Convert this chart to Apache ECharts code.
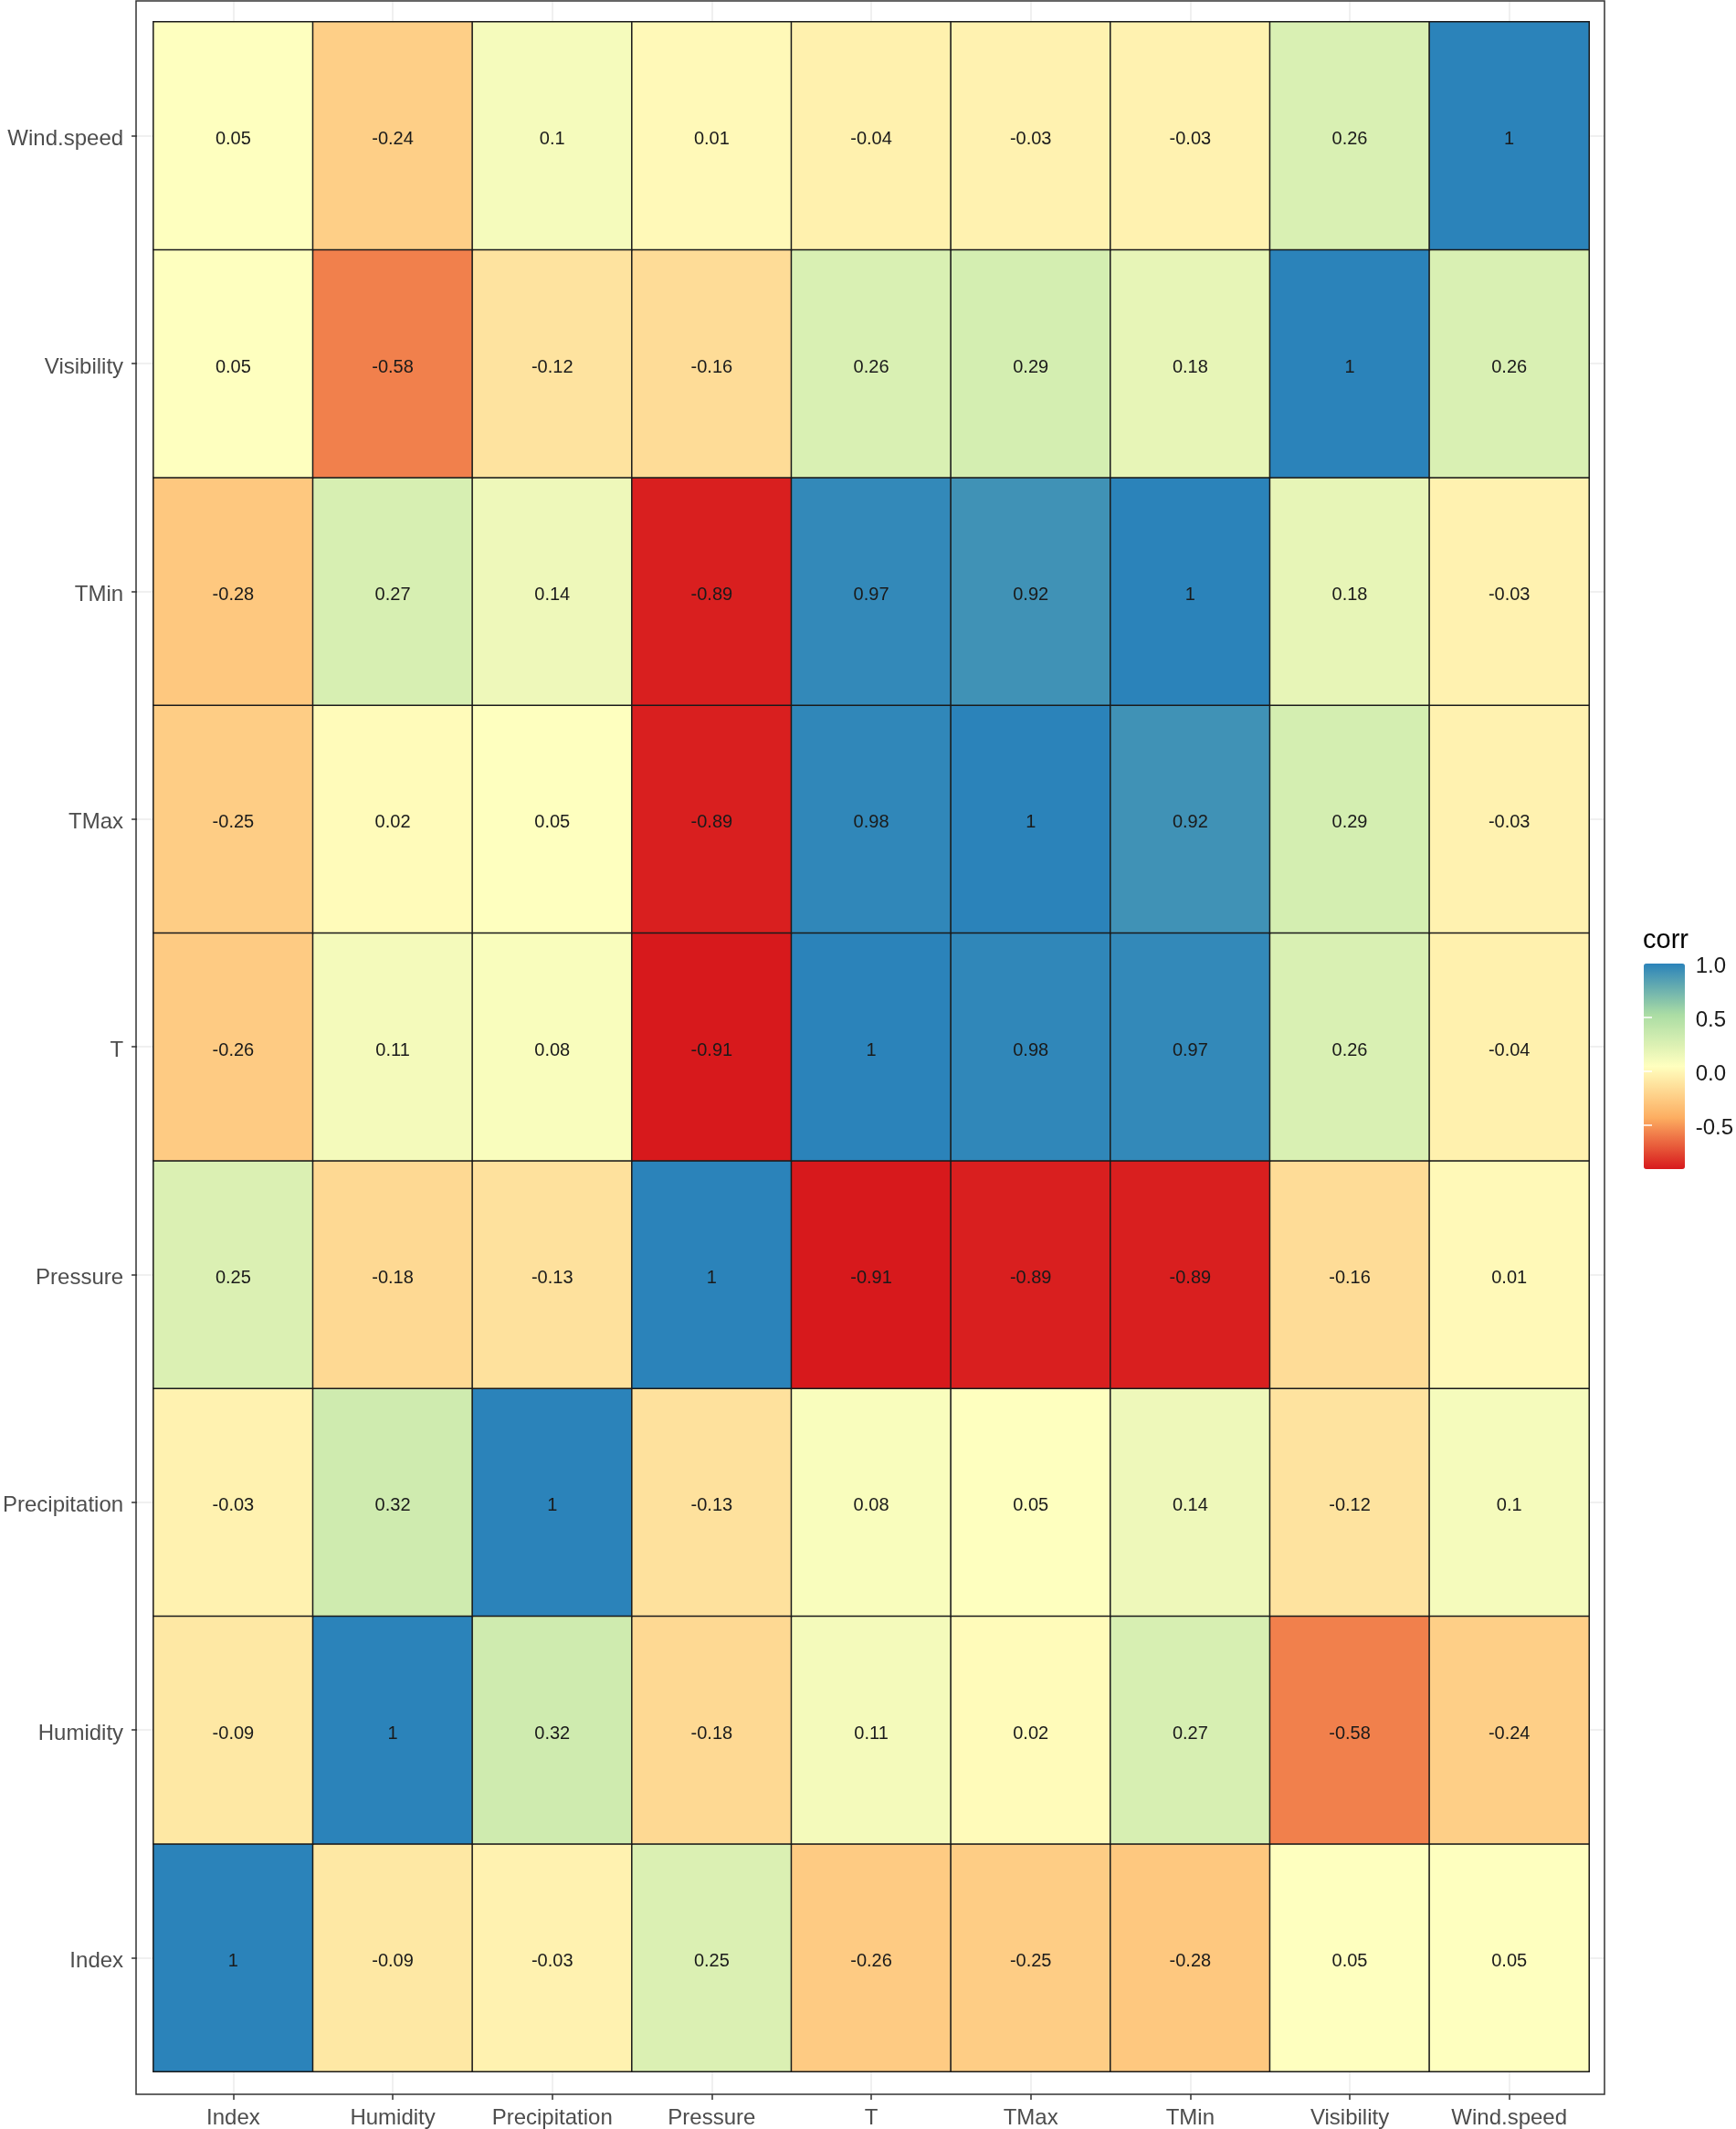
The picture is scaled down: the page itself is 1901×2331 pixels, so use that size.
<!DOCTYPE html>
<html>
<head>
<meta charset="utf-8">
<title>corr heatmap</title>
<script src="https://cdn.jsdelivr.net/npm/echarts@6/dist/echarts.min.js"></script>
<style>
    html, body { margin: 0; padding: 0; background: #fff; }
    #chart { width: 1901px; height: 2331px; }
</style>
</head>
<body>
<div id="chart"></div>
<script>
// variables, same order on both axes (y goes bottom -> top)
var vars = ['Index', 'Humidity', 'Precipitation', 'Pressure', 'T', 'TMax', 'TMin', 'Visibility', 'Wind.speed'];

// correlation rows, one per variable, columns in vars order
var rowIndex = [1, -0.09, -0.03, 0.25, -0.26, -0.25, -0.28, 0.05, 0.05];
var rowHumidity = [-0.09, 1, 0.32, -0.18, 0.11, 0.02, 0.27, -0.58, -0.24];
var rowPrecipitation = [-0.03, 0.32, 1, -0.13, 0.08, 0.05, 0.14, -0.12, 0.1];
var rowPressure = [0.25, -0.18, -0.13, 1, -0.91, -0.89, -0.89, -0.16, 0.01];
var rowT = [-0.26, 0.11, 0.08, -0.91, 1, 0.98, 0.97, 0.26, -0.04];
var rowTMax = [-0.25, 0.02, 0.05, -0.89, 0.98, 1, 0.92, 0.29, -0.03];
var rowTMin = [-0.28, 0.27, 0.14, -0.89, 0.97, 0.92, 1, 0.18, -0.03];
var rowVisibility = [0.05, -0.58, -0.12, -0.16, 0.26, 0.29, 0.18, 1, 0.26];
var rowWindSpeed = [0.05, -0.24, 0.1, 0.01, -0.04, -0.03, -0.03, 0.26, 1];

// colour bar
var corrMin = -0.91;
var corrMax = 1;
var barLabels = [-0.5, 0, 0.5, 1];
var barTicks = [-0.5, 0, 0.5];
var spectral = ['#d7191c', '#fdae61', '#ffffbf', '#abdda4', '#2b83ba'];

var rows = [rowIndex, rowHumidity, rowPrecipitation, rowPressure, rowT, rowTMax, rowTMin, rowVisibility, rowWindSpeed];
var cells = [];
for (var y = 0; y < rows.length; y++) {
    for (var x = 0; x < rows[y].length; x++) {
        cells.push([x, y, rows[y][x]]);
    }
}

var font = "'Liberation Sans', Arial, sans-serif";
var gridGrey = '#ebebeb';

// plain category axis with nothing but ticks (used for the grey lines in the gaps)
function gapAxis(pos, offset, len) {
    return {
        type: 'category', gridIndex: 0, position: pos, offset: offset, data: vars,
        axisLine: { show: false },
        axisTick: { show: true, alignWithLabel: true, inside: true, length: len, lineStyle: { color: gridGrey, width: 1.5 } },
        axisLabel: { show: false },
        splitLine: { show: false }
    };
}

var myChart = echarts.init(document.getElementById('chart'), null, { renderer: 'canvas' });

var option = {
    animation: false,
    backgroundColor: '#fff',
    textStyle: { fontFamily: font },
    grid: [
        { left: 167, top: 24, width: 1573, height: 2244 },   // tiles
        { left: 1800, top: 1055, width: 45, height: 225 }    // colour bar labels
    ],
    xAxis: [
        {
            type: 'category', gridIndex: 0, position: 'bottom', offset: 25, data: vars,
            axisLine: { show: false },
            axisTick: { show: true, alignWithLabel: true, length: 6, lineStyle: { color: '#333', width: 1.5 } },
            axisLabel: { fontSize: 24, color: '#4d4d4d', margin: 14, fontFamily: font },
            splitLine: { show: false }
        },
        gapAxis('bottom', 25, 25),
        gapAxis('top', 23, 23),
        { type: 'value', gridIndex: 1, show: false, min: 0, max: 1 }
    ],
    yAxis: [
        {
            type: 'category', gridIndex: 0, position: 'left', offset: 18, data: vars,
            axisLine: { show: false },
            axisTick: { show: true, alignWithLabel: true, length: 6, lineStyle: { color: '#333', width: 1.5 } },
            axisLabel: {
                margin: 15,
                formatter: function (v) { return '{a|' + v + '}'; },
                rich: { a: { fontSize: 24, color: '#4d4d4d', fontFamily: font, padding: [8, 0, 0, 0] } }
            },
            splitLine: { show: false }
        },
        gapAxis('left', 18, 18),
        gapAxis('right', 17, 17),
        {
            type: 'value', gridIndex: 1, position: 'right', min: corrMin, max: corrMax, z: 10,
            axisLine: { show: false },
            axisTick: { show: true, inside: true, length: 9, customValues: barTicks, lineStyle: { color: '#fff', width: 1.5 } },
            axisLabel: {
                show: true, customValues: barLabels, margin: 15,
                formatter: function (v) { return '{a|' + Number(v).toFixed(1) + '}'; },
                rich: { a: { fontSize: 24, color: '#1a1a1a', fontFamily: font, padding: [7, 0, 0, 0] } }
            },
            splitLine: { show: false }
        },
        {
            type: 'value', gridIndex: 1, position: 'left', min: corrMin, max: corrMax, z: 10,
            axisLine: { show: false },
            axisTick: { show: true, inside: true, length: 9, customValues: barTicks, lineStyle: { color: '#fff', width: 1.5 } },
            axisLabel: { show: false },
            splitLine: { show: false }
        }
    ],
    visualMap: {
        type: 'continuous',
        seriesIndex: 0,
        min: corrMin,
        max: corrMax,
        orient: 'vertical',
        left: 1800,
        top: 1055,
        itemWidth: 45,
        itemHeight: 225,
        padding: 0,
        calculable: false,
        hoverLink: false,
        inRange: { color: spectral }
    },
    graphic: [
        {   // panel border
            type: 'rect', z: 5, silent: true,
            shape: { x: 149, y: 1, width: 1608, height: 2292 },
            style: { fill: null, stroke: '#333', lineWidth: 1.5 }
        },
        {
            type: 'text', left: 1799, top: 1015, silent: true,
            style: { text: 'corr', fontSize: 29, fontFamily: font, fill: '#000' }
        }
    ],
    series: [
        {
            name: 'corr',
            type: 'heatmap',
            xAxisIndex: 0,
            yAxisIndex: 0,
            data: cells,
            itemStyle: { borderColor: '#1a1a1a', borderWidth: 1.5 },
            label: {
                show: true,
                fontSize: 20,
                color: '#1a1a1a',
                fontFamily: font,
                offset: [0, 4],
                formatter: function (p) { return String(p.value[2]); }
            },
            emphasis: { disabled: true }
        }
    ]
};

myChart.setOption(option);
</script>
</body>
</html>
